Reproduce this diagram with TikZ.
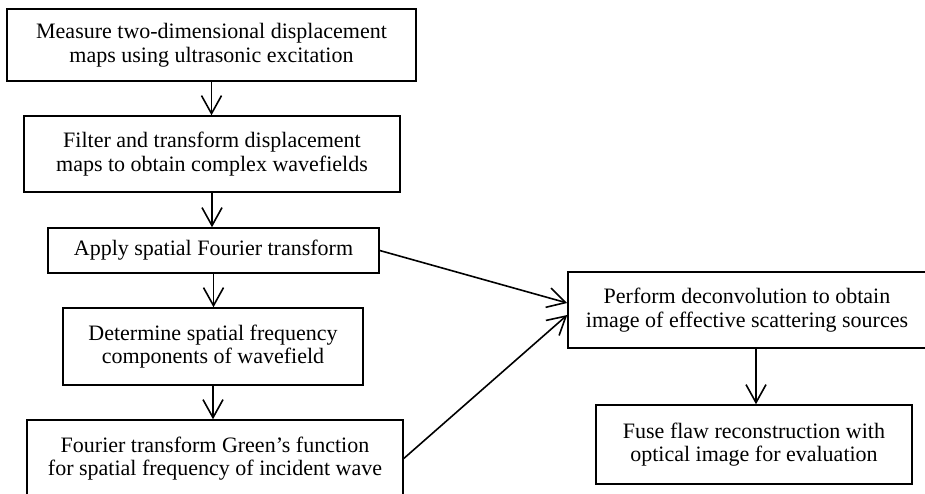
\documentclass[tikz,border=0pt]{standalone}
\usepackage{fontspec}
\setmainfont{Liberation Serif}
\usetikzlibrary{arrows.meta}
\begin{document}
\begin{tikzpicture}[x=1pt,y=-1pt,
  box/.style={draw, line width=1.5pt, inner sep=0pt, align=center,
    font=\fontsize{22}{23.5}\selectfont},
  arr/.style={line width=1.6pt, -{Straight Barb[length=18pt,width=20pt,line width=1.6pt]}}]
\useasboundingbox (0,0) rectangle (925,493);
\node[box, minimum width=409pt, minimum height=72pt] (b1) at (211.5,45)
  {Measure two-dimensional displacement\\maps using ultrasonic excitation};
\node[box, minimum width=376pt, minimum height=76pt] (b2) at (212,154)
  {Filter and transform displacement\\maps to obtain complex wavefields};
\node[box, minimum width=331pt, minimum height=45pt] (b3) at (213.5,250.5)
  {Apply spatial Fourier transform};
\node[box, minimum width=300pt, minimum height=77pt] (b4) at (213,346.5)
  {Determine spatial frequency\\components of wavefield};
\node[box, minimum width=376pt, minimum height=77pt] (b5) at (215,458.5)
  {Fourier transform Green's function\\for spatial frequency of incident wave};
\node[box, minimum width=358pt, minimum height=76pt] (b6) at (747,310)
  {Perform deconvolution to obtain\\image of effective scattering sources};
\node[box, minimum width=316pt, minimum height=79pt] (b7) at (754,444.5)
  {Fuse flaw reconstruction with\\optical image for evaluation};
\draw[arr] (b1.south) -- (b1.south |- b2.north);
\draw[arr] (b2.south) -- (b2.south |- b3.north);
\draw[arr] (b3.south) -- (b3.south |- b4.north);
\draw[arr] (b4.south) -- (b4.south |- b5.north);
\draw[arr] (b3.east) -- ([yshift=7pt]b6.west);
\draw[arr] (b5.east) -- ([yshift=-5pt]b6.west);
\draw[arr] ([xshift=9pt]b6.south) -- ([xshift=9pt]b6.south |- b7.north);
\end{tikzpicture}
\end{document}
